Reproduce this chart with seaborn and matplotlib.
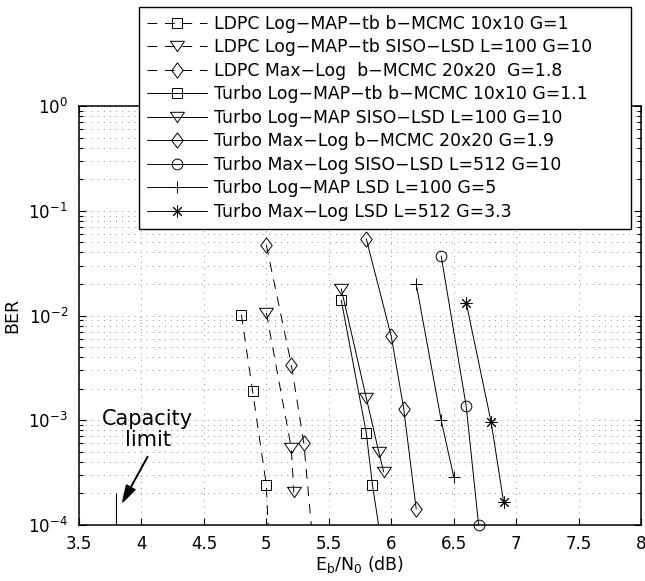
import numpy as np
import seaborn as sns
from matplotlib import pyplot as plt
from matplotlib.ticker import LogLocator, NullFormatter, FixedLocator

# Eb/N0 (dB) and BER
ldpc_sq_x = [4.8, 4.89, 5.0, 5.05]
ldpc_sq_y = [1.02e-2, 1.9e-3, 2.4e-4, 1e-5]
ldpc_tri_x = [5.0, 5.2, 5.22]
ldpc_tri_y = [1.06e-2, 5.4e-4, 2.05e-4]
ldpc_dia_x = [5.0, 5.2, 5.3, 5.4]
ldpc_dia_y = [4.7e-2, 3.4e-3, 6.1e-4, 3e-5]
turbo_sq_x = [5.6, 5.8, 5.85, 5.95]
turbo_sq_y = [1.4e-2, 7.6e-4, 2.4e-4, 4e-5]
turbo_tri_x = [5.6, 5.8, 5.9, 5.94]
turbo_tri_y = [1.8e-2, 1.64e-3, 5.0e-4, 3.2e-4]
turbo_dia_x = [5.8, 6.0, 6.1, 6.2]
turbo_dia_y = [5.4e-2, 6.35e-3, 1.29e-3, 1.42e-4]
turbo_circ_x = [6.4, 6.6, 6.7]
turbo_circ_y = [3.7e-2, 1.37e-3, 1.0e-4]
turbo_plus_x = [6.2, 6.4, 6.5]
turbo_plus_y = [2.0e-2, 1.0e-3, 2.9e-4]
turbo_star_x = [6.6, 6.8, 6.9]
turbo_star_y = [1.33e-2, 9.6e-4, 1.66e-4]

labels = ["LDPC Log\u2212MAP\u2212tb b\u2212MCMC 10x10 G=1",
          "LDPC Log\u2212MAP\u2212tb SISO\u2212LSD L=100 G=10",
          "LDPC Max\u2212Log  b\u2212MCMC 20x20  G=1.8",
          "Turbo Log\u2212MAP\u2212tb b\u2212MCMC 10x10 G=1.1",
          "Turbo Log\u2212MAP SISO\u2212LSD L=100 G=10",
          "Turbo Max\u2212Log b\u2212MCMC 20x20 G=1.9",
          "Turbo Max\u2212Log SISO\u2212LSD L=512 G=10",
          "Turbo Log\u2212MAP LSD L=100 G=5",
          "Turbo Max\u2212Log LSD L=512 G=3.3"]

capacity_db = 3.8
capacity_top = 2e-4
x_ticks = [3.5, 4, 4.5, 5, 5.5, 6, 6.5, 7, 7.5, 8]

sns.set_style("ticks", {"axes.edgecolor": "black", "text.color": "black",
                        "axes.labelcolor": "black", "xtick.color": "black",
                        "ytick.color": "black"})
plt.rcParams['font.family'] = ['DejaVu Sans']
plt.rcParams['mathtext.default'] = 'regular'

tri = [(-1, 0.75), (1, 0.75), (0, -0.75), (-1, 0.75)]
dia = [(0, 1), (0.75, 0), (0, -1), (-0.75, 0), (0, 1)]
dash = (0, (10, 8))

series = [
    (ldpc_sq_x, ldpc_sq_y, 's', 6.8, dash),
    (ldpc_tri_x, ldpc_tri_y, tri, 10, dash),
    (ldpc_dia_x, ldpc_dia_y, dia, 11, dash),
    (turbo_sq_x, turbo_sq_y, 's', 6.8, '-'),
    (turbo_tri_x, turbo_tri_y, tri, 10, '-'),
    (turbo_dia_x, turbo_dia_y, dia, 11, '-'),
    (turbo_circ_x, turbo_circ_y, 'o', 7.7, '-'),
    (turbo_plus_x, turbo_plus_y, '+', 8.6, '-'),
    (turbo_star_x, turbo_star_y, (8, 2, 0), 8.5, '-'),
]

fig = plt.figure(figsize=(6.45, 5.81), dpi=100)
ax = fig.add_axes([79/645, 56/581, 562/645, 419/581])

for (xs, ys, mk, ms, ls), lab in zip(series, labels):
    # markers sitting on the bottom edge stay whole; curves running below it get clipped
    sns.lineplot(x=xs, y=ys, ax=ax, color='k', lw=0.7, linestyle=ls,
                 marker=mk, ms=ms, mfc='none', mec='k', mew=0.7,
                 label=lab, clip_on=min(ys) < 1e-4)

ax.set_yscale('log')
ax.set_xlim(3.5, 8)
ax.set_ylim(1e-4, 1)
ax.xaxis.set_major_locator(FixedLocator(x_ticks))
ax.set_xticklabels([f"{t:g}" for t in x_ticks])
ax.yaxis.set_major_locator(LogLocator(base=10, numticks=10))
ax.yaxis.set_minor_locator(LogLocator(base=10, subs=np.arange(2, 10), numticks=50))
ax.yaxis.set_minor_formatter(NullFormatter())

ax.grid(True, which='major', axis='both', color='0.3', lw=0.55, linestyle=(0, (1, 7)))
ax.grid(True, which='minor', axis='y', color='0.3', lw=0.55, linestyle=(0, (1, 7)))
ax.tick_params(which='both', direction='in', top=True, right=True, labelsize=12, width=0.8)
ax.tick_params(which='major', length=5)
ax.tick_params(which='minor', length=3)
ax.tick_params(axis='x', pad=7)
ax.tick_params(axis='y', pad=8)
for s in ax.spines.values():
    s.set_linewidth(1.1)

ax.set_xlabel(r'E$_\mathregular{b}$/N$_\mathregular{0}$ (dB)', fontsize=12.5, labelpad=1)
ax.set_ylabel('BER', fontsize=12.5, labelpad=5)

# capacity limit
ax.vlines(capacity_db, 1e-4, capacity_top, color='k', lw=0.8)
ax.text(4.05, 8.2e-4, 'Capacity\nlimit', ha='center', va='center', fontsize=15, linespacing=1.05)
ax.annotate('', xy=(3.85, 1.66e-4), xytext=(4.05, 4.5e-4),
            arrowprops=dict(facecolor='black', edgecolor='black', width=0.3,
                            headwidth=7, headlength=12, shrink=0))

h, l = ax.get_legend_handles_labels()
leg = ax.legend(h, l, loc='upper left', mode='expand',
                bbox_to_anchor=(139/645, 1 - 7/581 - 0.01, 492/645, 0.01),
                bbox_transform=fig.transFigure, borderaxespad=0, fontsize=12.4,
                handlelength=3.5, handletextpad=0.4, labelspacing=0.32,
                fancybox=False, framealpha=1, edgecolor='k', borderpad=0.45)
leg.get_frame().set_linewidth(1.0)

fig.savefig('out.png', dpi=100)
